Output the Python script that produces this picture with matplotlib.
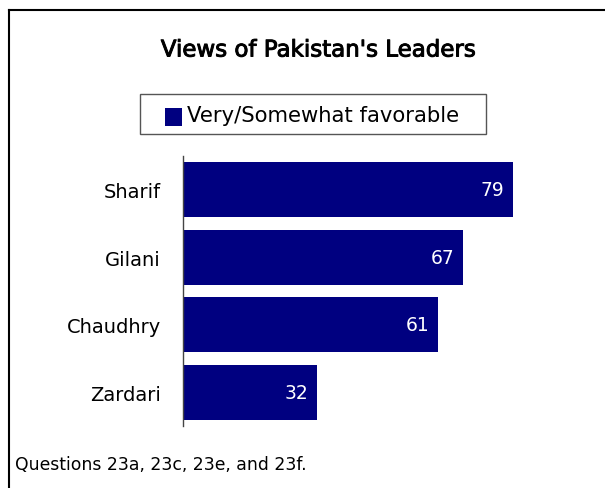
import matplotlib
matplotlib.use("Agg")
import matplotlib.pyplot as plt
import matplotlib.patheffects as pe
from matplotlib.patches import Rectangle
from matplotlib.lines import Line2D

categories = ["Sharif", "Gilani", "Chaudhry", "Zardari"]
values = [79, 67, 61, 32]
series_name = "Very/Somewhat favorable"
title = "Views of Pakistan's Leaders"
footnote = "Questions 23a, 23c, 23e, and 23f."

NAVY = "#000080"
plt.rcParams['font.family'] = ['DejaVu Sans']

W, H = 605, 489
fig = plt.figure(figsize=(W/100, H/100), dpi=100)

ax = fig.add_axes([183/W, 1-427/H, (601-183)/W, (427-157)/H])
ypos = list(range(len(categories)))
bars = ax.barh(ypos, values, height=0.81, color=NAVY, label=series_name)
ax.set_xlim(0, 100)
ax.set_ylim(len(categories)-0.5, -0.5)
ax.set_yticks(ypos)
ax.set_yticklabels(categories, fontsize=14)
ax.tick_params(axis='y', length=0, pad=16)
ax.set_xticks([])
for s in ['top', 'right', 'bottom']:
    ax.spines[s].set_visible(False)
ax.spines['left'].set_color('#444444')
ax.spines['left'].set_linewidth(1)

for b, v in zip(bars, values):
    ax.text(v - 2.1, b.get_y() + b.get_height()/2, str(v), color='white',
            ha='right', va='center', fontsize=13.5)

fig.text(318/W, 1-51/H, title, ha='center', va='center', fontsize=16.5,
         path_effects=[pe.withStroke(linewidth=0.7, foreground='black')])

# legend box
fig.patches.append(Rectangle((140/W, 1-135/H), (486-140)/W, (135-95)/H,
                             transform=fig.transFigure, fill=False,
                             edgecolor='#555555', linewidth=1))
fig.patches.append(Rectangle((165/W, 1-127/H), 17/W, 18/H,
                             transform=fig.transFigure, facecolor=NAVY, edgecolor='none'))
fig.text(187/W, 1-116/H, series_name, ha='left', va='center', fontsize=15.2)

fig.text(15/W, 1-465/H, footnote, ha='left', va='center', fontsize=12.4)

# outer frame (top and left edges visible)
fig.lines.append(Line2D([9/W, 9/W], [0, 1-11/H], transform=fig.transFigure, color='black', linewidth=1.5))
fig.lines.append(Line2D([9/W, 1], [1-11/H, 1-11/H], transform=fig.transFigure, color='black', linewidth=1.5))

fig.savefig("out.png", dpi=100)
